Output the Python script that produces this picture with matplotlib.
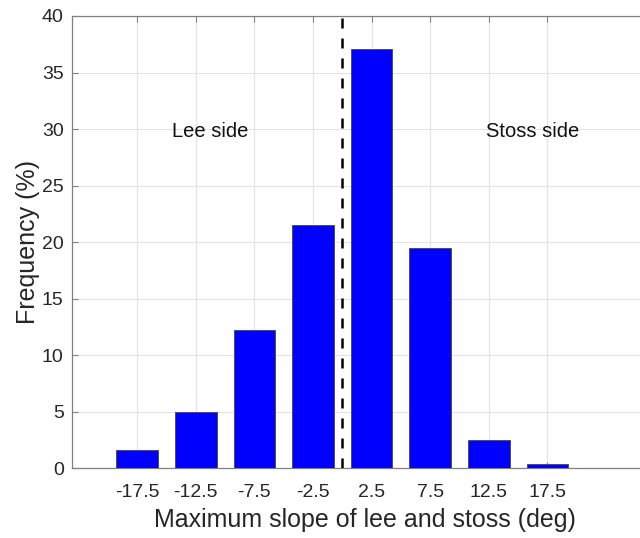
import matplotlib.pyplot as plt

plt.rcParams['font.family'] = ['Liberation Sans', 'DejaVu Sans']

# bin centres (deg) and frequency (%)
centers = [-17.5, -12.5, -7.5, -2.5, 2.5, 7.5, 12.5, 17.5]
freq = [1.6, 5.0, 12.2, 21.5, 37.1, 19.5, 2.5, 0.4]
tick_labels = ['-17.5', '-12.5', '-7.5', '-2.5', '2.5', '7.5', '12.5', '17.5']
yticks = [0, 5, 10, 15, 20, 25, 30, 35, 40]

fig = plt.figure(figsize=(6.4, 5.38), dpi=100)
ax = fig.add_axes([0.1125, 0.1295, 0.9166, 0.8408])

ax.bar(centers, freq, width=3.55, color='#0000ff', edgecolor='#505050', linewidth=0.7, zorder=3)
ax.axvline(0, color='black', linestyle=(0, (4, 4)), linewidth=1.8, zorder=4)

ax.text(-14.5, 29.8, 'Lee side', fontsize=14.5, ha='left', va='center', color='#111111')
ax.text(12.3, 29.8, 'Stoss side', fontsize=14.5, ha='left', va='center', color='#111111')

ax.set_xlim(-23.07, 27)
ax.set_ylim(0, 40)
ax.set_xticks(centers)
ax.set_xticklabels(tick_labels)
ax.set_yticks(yticks)

ax.grid(True, color='#e3e3e3', linewidth=0.8, zorder=0)
ax.set_axisbelow(True)
for s in ax.spines.values():
    s.set_color('#808080')
    s.set_linewidth(0.9)
ax.tick_params(direction='in', length=4, width=0.8, colors='#808080', labelcolor='#262626',
               labelsize=14, top=True, right=False)
ax.tick_params(axis='x', pad=11)
ax.tick_params(axis='y', pad=6)

ax.set_xlabel('Maximum slope of lee and stoss (deg)', fontsize=18, color='#262626', labelpad=5)
ax.set_ylabel('Frequency (%)', fontsize=18, color='#262626', labelpad=1)

fig.savefig('out.png', dpi=100)
